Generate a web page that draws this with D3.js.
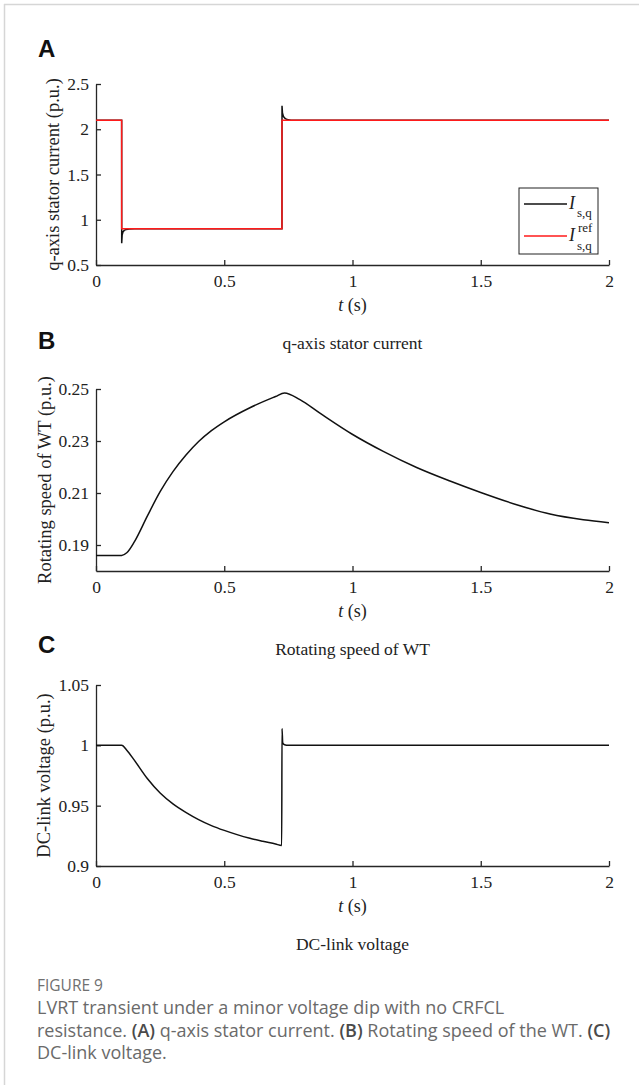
<!DOCTYPE html>
<html><head><meta charset="utf-8">
<script src="https://cdn.jsdelivr.net/npm/d3@7"></script>
<style>
html,body{margin:0;padding:0;background:#fff;}
svg{display:block;}
</style></head>
<body>
<svg id="chart" width="639" height="1085"></svg>
<script>
// ---------- data ----------
const xTicks = [0, 0.5, 1, 1.5, 2];
const xTickLabels = ["0", "0.5", "1", "1.5", "2"];

// Panel A: q-axis stator current
const tIsq = [0, 0.1, 0.1002, 0.102, 0.105, 0.11, 0.118, 0.13, 0.15, 0.725, 0.7252, 0.727, 0.731, 0.737, 0.745, 0.76, 2];
const isq  = [2.1, 2.1, 0.74, 0.83, 0.865, 0.882, 0.893, 0.898, 0.9, 0.9, 2.26, 2.18, 2.14, 2.12, 2.107, 2.1, 2.1];
const tIsqRef = [0, 0.1, 0.1, 0.725, 0.725, 2];
const isqRef  = [2.1, 2.1, 0.9, 0.9, 2.1, 2.1];
const aTicks = [0.5, 1, 1.5, 2, 2.5];
const aTickLabels = ["0.5", "1", "1.5", "2", "2.5"];

// Panel B: rotating speed of WT
const tSpeed = [0, 0.1, 0.12, 0.15, 0.2, 0.25, 0.3, 0.35, 0.4, 0.45, 0.5, 0.6, 0.7, 0.735, 0.795, 0.873, 0.999, 1.12, 1.25, 1.38, 1.5, 1.64, 1.77, 1.9, 2.0];
const speed  = [0.186, 0.186, 0.187, 0.1913, 0.2011, 0.2105, 0.2182, 0.2245, 0.2298, 0.234, 0.2374, 0.2428, 0.2471, 0.2485, 0.2459, 0.2407, 0.2326, 0.226, 0.2198, 0.2146, 0.2102, 0.2055, 0.2019, 0.1997, 0.1986];
const bTicks = [0.19, 0.21, 0.23, 0.25];
const bTickLabels = ["0.19", "0.21", "0.23", "0.25"];

// Panel C: DC-link voltage
const tVdc = [0, 0.1, 0.12, 0.15, 0.2, 0.25, 0.3, 0.35, 0.4, 0.45, 0.5, 0.55, 0.6, 0.65, 0.7, 0.724, 0.7252, 0.728, 0.735, 0.75, 2];
const vdc  = [1, 1, 0.996, 0.9875, 0.9725, 0.9605, 0.9515, 0.9445, 0.9385, 0.9335, 0.9295, 0.926, 0.923, 0.9205, 0.9182, 0.917, 1.014, 1.002, 1.0005, 1.0, 1.0];
const cTicks = [0.9, 0.95, 1, 1.05];
const cTickLabels = ["0.9", "0.95", "1", "1.05"];

// ---------- drawing ----------
const svg = d3.select("#chart");
svg.append("rect").attr("width", 639).attr("height", 1085).attr("fill", "#fff");
// card border
svg.append("line").attr("x1", 4).attr("x2", 639).attr("y1", 4.5).attr("y2", 4.5)
  .attr("stroke", "#d6d6d6").attr("stroke-width", 1.5);
svg.append("line").attr("x1", 4.5).attr("x2", 4.5).attr("y1", 4).attr("y2", 1085)
  .attr("stroke", "#d6d6d6").attr("stroke-width", 1.5);

const serif = "'Liberation Serif','Times New Roman',serif";
const axisColor = "#262626";
const x = d3.scaleLinear().domain([0, 2]).range([96, 609]);

function panel(opt) {
  const y = d3.scaleLinear().domain(opt.yDomain).range([opt.bottom, opt.top]);
  const g = svg.append("g");
  // panel letter
  svg.append("text").attr("x", 38).attr("y", opt.letterY).text(opt.letter)
    .attr("font-family", "'Liberation Sans',Arial,sans-serif").attr("font-weight", "bold")
    .attr("font-size", 24).attr("fill", "#111");

  const xa = g.append("g").attr("transform", `translate(0,${opt.bottom})`)
    .call(d3.axisBottom(x).tickValues(xTicks).tickFormat((d, i) => xTickLabels[i])
      .tickSize(-5).tickSizeOuter(0).tickPadding(10));
  const ya = g.append("g").attr("transform", `translate(96,0)`)
    .call(d3.axisLeft(y).tickValues(opt.ticks).tickFormat((d, i) => opt.tickLabels[i])
      .tickSize(-5).tickSizeOuter(0).tickPadding(7));
  [xa, ya].forEach(a => {
    a.selectAll("path,line").attr("stroke", axisColor).attr("stroke-width", 1.3);
    a.selectAll("text").attr("font-family", serif).attr("font-size", 17.5).attr("fill", "#222");
  });
  // x label
  const xl = g.append("text").attr("x", x(1)).attr("y", opt.bottom + 46)
    .attr("text-anchor", "middle").attr("font-family", serif).attr("font-size", 18).attr("fill", "#222");
  xl.append("tspan").attr("font-style", "italic").text("t");
  xl.append("tspan").text(" (s)");
  // caption under panel
  g.append("text").attr("x", x(1)).attr("y", opt.bottom + 84).attr("text-anchor", "middle")
    .attr("font-family", serif).attr("font-size", 17.5).attr("fill", "#222").text(opt.caption);
  // y label
  const cy = (opt.top + opt.bottom) / 2;
  g.append("text").attr("transform", `translate(${opt.ylabX},${cy}) rotate(-90)`)
    .attr("text-anchor", "middle").attr("dy", "0.35em")
    .attr("font-family", serif).attr("font-size", 18.5).attr("fill", "#222").text(opt.ylabel);
  return { g, y };
}

// Panel A
const A = panel({ letter: "A", letterY: 57, top: 84, bottom: 265, yDomain: [0.5, 2.5],
  ticks: aTicks, tickLabels: aTickLabels, ylabX: 53,
  ylabel: "q-axis stator current (p.u.)", caption: "q-axis stator current" });
const lineA = d3.line().x(d => x(d[0])).y(d => A.y(d[1]));
A.g.append("path").datum(tIsq.map((t, i) => [t, isq[i]])).attr("d", lineA)
  .attr("fill", "none").attr("stroke", "#111").attr("stroke-width", 1.5);
A.g.append("path").datum(tIsqRef.map((t, i) => [t, isqRef[i]])).attr("d", lineA)
  .attr("fill", "none").attr("stroke", "#ff1a1a").attr("stroke-width", 1.5);
// legend
const lg = A.g.append("g");
lg.append("rect").attr("x", 519).attr("y", 188).attr("width", 79).attr("height", 66)
  .attr("fill", "#fff").attr("stroke", "#222").attr("stroke-width", 1);
lg.append("line").attr("x1", 524).attr("x2", 567).attr("y1", 204).attr("y2", 204)
  .attr("stroke", "#111").attr("stroke-width", 1.5);
lg.append("line").attr("x1", 524).attr("x2", 567).attr("y1", 236).attr("y2", 236)
  .attr("stroke", "#ff1a1a").attr("stroke-width", 1.5);
const lt = (xx, yy, s, size, italic) => lg.append("text").attr("x", xx).attr("y", yy)
  .attr("font-family", serif).attr("font-size", size).attr("font-style", italic ? "italic" : "normal")
  .attr("fill", "#222").text(s);
lt(569, 209, "I", 18, true);
lt(577, 217, "s,q", 13, false);
lt(569, 241, "I", 18, true);
lt(578, 232, "ref", 13, false);
lt(577, 250, "s,q", 13, false);

// Panel B
const B = panel({ letter: "B", letterY: 349, top: 389, bottom: 571, yDomain: [0.18, 0.25],
  ticks: bTicks, tickLabels: bTickLabels, ylabX: 45,
  ylabel: "Rotating speed of WT (p.u.)", caption: "Rotating speed of WT" });
B.g.append("path").datum(tSpeed.map((t, i) => [t, speed[i]]))
  .attr("d", d3.line().curve(d3.curveMonotoneX).x(d => x(d[0])).y(d => B.y(d[1])))
  .attr("fill", "none").attr("stroke", "#111").attr("stroke-width", 1.5);

// Panel C
const C = panel({ letter: "C", letterY: 653, top: 685, bottom: 866, yDomain: [0.9, 1.05],
  ticks: cTicks, tickLabels: cTickLabels, ylabX: 44,
  ylabel: "DC-link voltage (p.u.)", caption: "DC-link voltage" });
C.g.append("path").datum(tVdc.map((t, i) => [t, vdc[i]]))
  .attr("d", d3.line().curve(d3.curveMonotoneX).x(d => x(d[0])).y(d => C.y(d[1])))
  .attr("fill", "none").attr("stroke", "#111").attr("stroke-width", 1.5);

// Figure caption
const sans = "'Open Sans','Noto Sans',sans-serif";
svg.append("text").attr("x", 37).attr("y", 991).attr("font-family", sans).attr("font-size", 15.5)
  .attr("fill", "#707070").text("FIGURE 9");
const capLines = [
  [["LVRT transient under a minor voltage dip with no CRFCL", false]],
  [["resistance. ", false], ["(A)", true], [" q-axis stator current. ", false], ["(B)", true],
   [" Rotating speed of the WT. ", false], ["(C)", true]],
  [["DC-link voltage.", false]]
];
capLines.forEach((parts, i) => {
  const t = svg.append("text").attr("x", 37).attr("y", 1014 + i * 22.5)
    .attr("font-family", sans).attr("font-size", 18).attr("fill", "#6a6a6a");
  parts.forEach(([s, b]) => t.append("tspan").text(s)
    .attr("font-weight", b ? 600 : 400).attr("fill", b ? "#4a4a4a" : "#6a6a6a"));
});
</script>
</body></html>
